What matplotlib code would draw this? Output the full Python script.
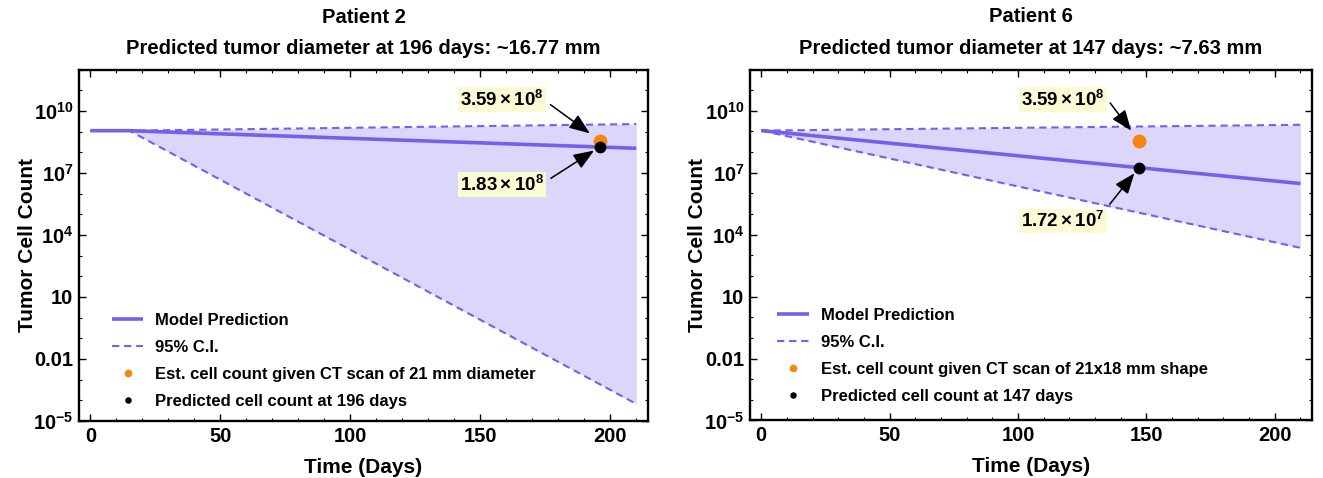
import matplotlib
matplotlib.use('Agg')
import matplotlib.pyplot as plt
from matplotlib.ticker import FixedLocator, FixedFormatter, MultipleLocator

plt.rcParams['font.family'] = ['Liberation Sans', 'DejaVu Sans']
plt.rcParams['font.weight'] = 'bold'
plt.rcParams['mathtext.fontset'] = 'custom'
plt.rcParams['mathtext.rm'] = 'Liberation Sans:bold'
plt.rcParams['mathtext.bf'] = 'Liberation Sans:bold'
plt.rcParams['mathtext.it'] = 'Liberation Sans:bold:italic'

# ---------------- data ----------------
# Patient 2
p2_days = [0, 15, 210]
p2_model = [1.1e9, 1.1e9, 1.55e8]
p2_upper = [1.1e9, 1.1e9, 2.3e9]
p2_lower = [1.1e9, 1.1e9, 6.7e-5]
p2_day = 196
p2_est = 3.59e8
p2_pred = 1.83e8
p2_est_label = r'$3.59\times10^{8}$'
p2_pred_label = r'$1.83\times10^{8}$'

# Patient 6
p6_days = [0, 210]
p6_model = [1.1e9, 3.0e6]
p6_upper = [1.1e9, 2.1e9]
p6_lower = [1.1e9, 2.3e3]
p6_day = 147
p6_est = 3.59e8
p6_pred = 1.72e7
p6_est_label = r'$3.59\times10^{8}$'
p6_pred_label = r'$1.72\times10^{7}$'

titles = ['Patient 2\nPredicted tumor diameter at 196 days: ~16.77 mm',
          'Patient 6\nPredicted tumor diameter at 147 days: ~7.63 mm']
legend_labels_p2 = ['Model Prediction', '95% C.I.',
                    'Est. cell count given CT scan of 21 mm diameter',
                    'Predicted cell count at 196 days']
legend_labels_p6 = ['Model Prediction', '95% C.I.',
                    'Est. cell count given CT scan of 21x18 mm shape',
                    'Predicted cell count at 147 days']

ytick_vals = [1e-5, 1e-2, 1e1, 1e4, 1e7, 1e10]
ytick_labels = [r'$10^{-5}$', '0.01', '10', r'$10^{4}$', r'$10^{7}$', r'$10^{10}$']
yminor_vals = [10.0 ** k for k in range(-5, 13) if 10.0 ** k not in ytick_vals]
xtick_vals = [0, 50, 100, 150, 200]

# ---------------- style ----------------
LINE = '#7361EE'
FILL = '#DCD6FA'
ORANGE = '#F7850F'
BOX = '#FAFAD4'

fig = plt.figure(figsize=(13.23, 4.78), dpi=100)
ax1 = fig.add_axes([0.0597, 0.1192, 0.4301, 0.7354])
ax2 = fig.add_axes([0.5669, 0.1203, 0.4248, 0.7343])


def draw(ax, days, model, upper, lower, day, est, pred, est_label, pred_label,
         title, labels, ann, leg_anchor):
    ax.fill_between(days, lower, upper, color=FILL, lw=0, zorder=1)
    ax.plot(days, upper, color=LINE, lw=1.5, dashes=(3.5, 2.3), zorder=2)
    ax.plot(days, lower, color=LINE, lw=1.5, dashes=(3.5, 2.3), zorder=2)
    h_model, = ax.plot(days, model, color=LINE, lw=2.6, zorder=3,
                       solid_capstyle='butt')
    h_ci, = ax.plot([], [], color=LINE, lw=1.5, dashes=(3.5, 2.3))
    h_est, = ax.plot([day], [est], 'o', color=ORANGE, ms=10, mec='none', zorder=4)
    h_pred, = ax.plot([day], [pred], 'o', color='black', ms=8.5, mec='none', zorder=5)

    ax.set_yscale('log')
    ax.set_xlim(-4.4, 214.5)
    ax.set_ylim(1e-5, 1e12)
    ax.yaxis.set_major_locator(FixedLocator(ytick_vals))
    ax.yaxis.set_major_formatter(FixedFormatter(ytick_labels))
    ax.yaxis.set_minor_locator(FixedLocator(yminor_vals))
    ax.yaxis.set_minor_formatter(FixedFormatter([''] * len(yminor_vals)))
    ax.xaxis.set_major_locator(FixedLocator(xtick_vals))
    ax.xaxis.set_minor_locator(MultipleLocator(10))
    ax.tick_params(which='both', direction='in', top=True, right=True,
                   labelsize=14.5, color='black')
    ax.tick_params(which='major', length=5, width=1.0, pad=4)
    ax.tick_params(which='minor', length=2.5, width=0.8)
    for s in ax.spines.values():
        s.set_linewidth(1.7)
    for lab in ax.get_xticklabels() + ax.get_yticklabels():
        lab.set_fontweight('bold')

    ax.set_xlabel('Time (Days)', fontsize=15, fontweight='bold')
    ax.set_ylabel('Tumor Cell Count', fontsize=15, fontweight='bold')
    ax.yaxis.set_label_coords(ann['ylab'], 0.5)
    ax.xaxis.set_label_coords(0.5, -0.105)

    t1, t2 = title.split('\n')
    ax.text(0.5, ann['t1'], t1, transform=ax.transAxes, ha='center', va='center',
            fontsize=14.5, fontweight='bold')
    ax.text(0.5, ann['t2'], t2, transform=ax.transAxes, ha='center', va='center',
            fontsize=14.5, fontweight='bold')

    ax.legend([h_model, h_ci, h_est, h_pred], labels, loc='upper left',
              bbox_to_anchor=leg_anchor, borderaxespad=0, frameon=False,
              fontsize=12, handlelength=1.9, handletextpad=0.7,
              labelspacing=0.72, markerscale=0.55, borderpad=0.4)

    bbox = dict(boxstyle='square,pad=0.12', fc=BOX, ec='none')
    for (val, lab, off, rel, shr) in [(est, est_label, ann['est_off'], ann['est_rel'], 9),
                                      (pred, pred_label, ann['pred_off'], ann['pred_rel'], 5)]:
        ax.annotate(lab, xy=(day, val), xytext=off, textcoords='offset pixels',
                    ha='center', va='center', fontsize=13.5, fontweight='bold',
                    bbox=bbox, zorder=6,
                    arrowprops=dict(arrowstyle='-|>,head_length=0.9,head_width=0.35',
                                    color='black', lw=1.1, relpos=rel,
                                    shrinkA=4, shrinkB=shr, mutation_scale=14))


draw(ax1, p2_days, p2_model, p2_upper, p2_lower, p2_day, p2_est, p2_pred,
     p2_est_label, p2_pred_label, titles[0], legend_labels_p2,
     dict(ylab=-0.074, t1=1.149, t2=1.061,
          est_off=(-98, 41), est_rel=(1, 0.5),
          pred_off=(-98, -38), pred_rel=(1, 0.6)),
     (0.046, 0.326))
draw(ax2, p6_days, p6_model, p6_upper, p6_lower, p6_day, p6_est, p6_pred,
     p6_est_label, p6_pred_label, titles[1], legend_labels_p6,
     dict(ylab=-0.0765, t1=1.15, t2=1.061,
          est_off=(-76, 41), est_rel=(1, 0.7),
          pred_off=(-76, -53), pred_rel=(1, 1.0)),
     (0.037, 0.34))

fig.savefig('out.png', dpi=100)
